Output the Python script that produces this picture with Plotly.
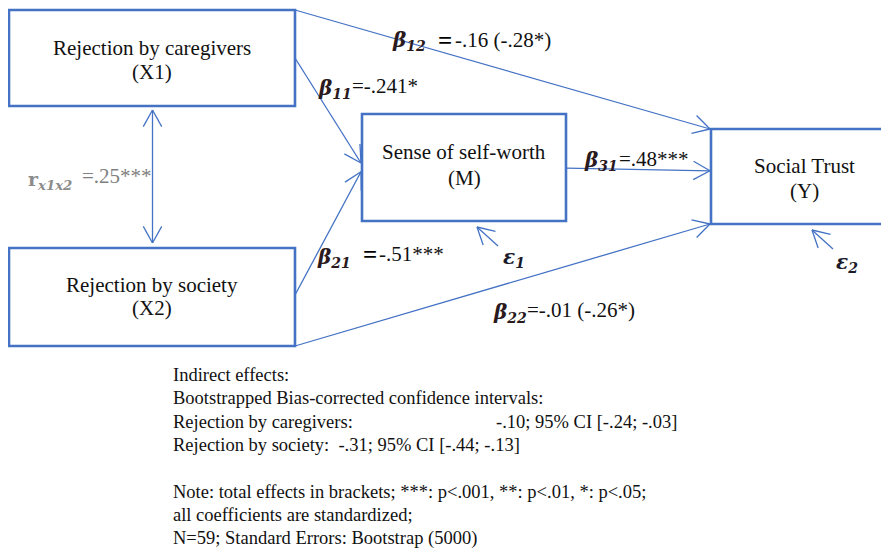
import math
import plotly.graph_objects as go

# ---------------- data ----------------
node_ids = ["X1", "X2", "M", "Y"]
node_titles = ["Rejection by caregivers", "Rejection by society", "Sense of self-worth", "Social Trust"]
node_codes = ["(X1)", "(X2)", "(M)", "(Y)"]

# paths: (source, target, subscript, coefficient text)
path_source = ["X1", "X1", "X2", "M", "X2"]
path_target = ["Y", "M", "M", "Y", "Y"]
path_sub = ["12", "11", "21", "31", "22"]
path_coef = ["-.16 (-.28*)", "=-.241*", "-.51***", "=.48***", "=-.01 (-.26*)"]
path_bold_eq = [True, False, True, False, False]

corr_label_sub = "x1x2"
corr_value = "=.25***"

error_terms = ["1", "2"]  # epsilon subscripts for M and Y

footer_lines = [
    "Indirect effects:",
    "Bootstrapped Bias-corrected confidence intervals:",
    "Rejection by caregivers:",
    "Rejection by society:&nbsp; -.31; 95% CI [-.44; -.13]",
    "",
    "Note: total effects in brackets; ***: p<.001, **: p<.01, *: p<.05;",
    "all coefficients are standardized;",
    "N=59; Standard Errors: Bootstrap (5000)",
]
caregiver_indirect = "-.10; 95% CI [-.24; -.03]"

# ---------------- layout (positions / styles) ----------------
W, H = 889, 558
PAGE_OFF = 8  # default body margin of the html page
BLUE = "#4472C4"
FONT = "Liberation Serif"

box = {  # x0, y0, x1, y1
    "X1": (9, 10, 295, 106),
    "X2": (9, 248, 295, 346),
    "M": (362, 114, 566, 221),
    "Y": (711, 129, 897, 224),
}
title_y = {"X1": 48, "X2": 285, "M": 152, "Y": 166}
code_y = {"X1": 72, "X2": 308, "M": 178, "Y": 191}

# anchor fractions along the vertical side (0 = top, 1 = bottom)
src_frac = [0.0, 0.5, 0.48, 0.505, 1.0]
tgt_frac = [0.0, 0.458, 0.54, 0.44, 1.0]

# label positions: symbol left x, symbol center y, "=" x, value x, value y
lab_sym = [(390, 41), (316, 89), (315, 258), (582, 161), (491, 313)]
lab_eq_x = [436, None, 361, None, None]
lab_val = [(453, 40), (350, 86), (377, 254), (617, 159), (525, 310)]

ARM = 19
HALF = math.radians(29)


def head(tx, ty, fx, fy):
    d = math.hypot(tx - fx, ty - fy)
    bx, by = (fx - tx) / d, (fy - ty) / d
    pts = []
    for s in (1, -1):
        c, sn = math.cos(s * HALF), math.sin(s * HALF)
        ax = bx * c - by * sn
        ay = bx * sn + by * c
        pts.append((tx + ARM * ax, ty + ARM * ay))
    return pts


fig = go.Figure()
lx, ly = [], []


def arrow(fx, fy, tx, ty, both=False):
    lx.extend([fx, tx, None])
    ly.extend([fy, ty, None])
    for (px, py) in head(tx, ty, fx, fy):
        lx.extend([px, tx, None])
        ly.extend([py, ty, None])
    if both:
        for (px, py) in head(fx, fy, tx, ty):
            lx.extend([px, fx, None])
            ly.extend([py, fy, None])


for i in range(len(path_source)):
    s, t = path_source[i], path_target[i]
    sx0, sy0, sx1, sy1 = box[s]
    tx0, ty0, tx1, ty1 = box[t]
    fy = sy0 + src_frac[i] * (sy1 - sy0)
    ty = ty0 + tgt_frac[i] * (ty1 - ty0)
    arrow(sx1, fy, tx0 - 1, ty)

# correlation double arrow between X1 and X2
cx = (box["X1"][0] + box["X1"][2]) / 2 + 0.5
arrow(cx, box["X1"][3] + 4, cx, box["X2"][1] - 5, both=True)

# error term arrows
err_nodes = ["M", "Y"]
err_tip_x = [477, 812]
for n, tx in zip(err_nodes, err_tip_x):
    tyy = box[n][3] + 6
    arrow(tx + 21, tyy + 19, tx, tyy)

fig.add_trace(go.Scatter(x=lx, y=ly, mode="lines", line=dict(color=BLUE, width=1.3),
                         hoverinfo="skip", showlegend=False))

shapes = []
for n in node_ids:
    x0, y0, x1, y1 = box[n]
    shapes.append(dict(type="rect", xref="x", yref="y", x0=x0, y0=y0, x1=x1, y1=y1,
                       line=dict(color=BLUE, width=2.6), fillcolor="rgba(0,0,0,0)"))

ann = []
for n, t, c in zip(node_ids, node_titles, node_codes):
    x0, y0, x1, y1 = box[n]
    xc = (x0 + x1) / 2
    ann.append(dict(x=xc, y=title_y[n], text=t, xanchor="center", yanchor="middle",
                    font=dict(family=FONT, size=21, color="#111")))
    ann.append(dict(x=xc, y=code_y[n], text=c, xanchor="center", yanchor="middle",
                    font=dict(family=FONT, size=21, color="#111")))

for i in range(len(path_sub)):
    sx, sy = lab_sym[i]
    ann.append(dict(x=sx, y=sy, text="<b><i>β</i></b><sub><b><i>%s</i></b></sub>" % path_sub[i],
                    xanchor="left", yanchor="middle",
                    font=dict(family="DejaVu Serif", size=20, color="#2a1a20")))
    if path_bold_eq[i]:
        ann.append(dict(x=lab_eq_x[i], y=lab_val[i][1], text="<b>=</b>", xanchor="left", yanchor="middle",
                        font=dict(family=FONT, size=25, color="#000")))
    vx, vy = lab_val[i]
    ann.append(dict(x=vx, y=vy, text=path_coef[i], xanchor="left", yanchor="middle",
                    font=dict(family=FONT, size=21, color="#111")))

# correlation label
ann.append(dict(x=26, y=180, text="<b>r</b><sub><b><i>%s</i></b></sub>" % corr_label_sub,
                xanchor="left", yanchor="middle",
                font=dict(family="DejaVu Serif", size=19, color="#8c8c8c")))
ann.append(dict(x=80, y=176, text=corr_value, xanchor="left", yanchor="middle",
                font=dict(family=FONT, size=21, color="#808080")))

# error terms
err_lab = [(501, 258), (834, 263)]
for e, (ex, ey) in zip(error_terms, err_lab):
    ann.append(dict(x=ex, y=ey, text="<b><i>ε</i></b><sub><b><i>%s</i></b></sub>" % e,
                    xanchor="left", yanchor="middle",
                    font=dict(family="DejaVu Serif", size=20, color="#1a1a2a")))

# footer
fx = 171
fy0 = 375
step = 23.3
for k, line in enumerate(footer_lines):
    if not line:
        continue
    ann.append(dict(x=fx, y=fy0 + k * step, text=line, xanchor="left", yanchor="middle",
                    font=dict(family=FONT, size=18.5, color="#111")))
ann.append(dict(x=494, y=fy0 + 2 * step, text=caregiver_indirect, xanchor="left", yanchor="middle",
                font=dict(family=FONT, size=18.5, color="#111")))

for a in ann:
    a.update(xref="x", yref="y", showarrow=False)

fig.update_layout(
    width=W - PAGE_OFF, height=H - PAGE_OFF, margin=dict(l=0, r=0, t=0, b=0),
    paper_bgcolor="white", plot_bgcolor="white",
    xaxis=dict(range=[PAGE_OFF, W], visible=False, fixedrange=True),
    yaxis=dict(range=[H, PAGE_OFF], visible=False, fixedrange=True),
    shapes=shapes, annotations=ann, showlegend=False,
)

fig.write_html("out.html")
